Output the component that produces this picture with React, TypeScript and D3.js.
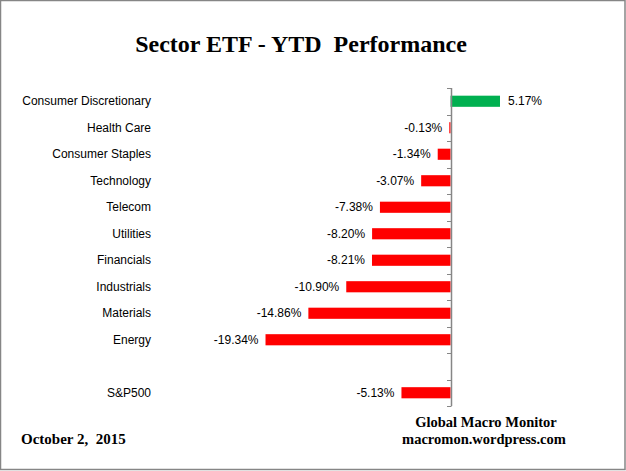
import React from "react";
import * as d3 from "d3";

const categories = [
  "Consumer Discretionary",
  "Health Care",
  "Consumer Staples",
  "Technology",
  "Telecom",
  "Utilities",
  "Financials",
  "Industrials",
  "Materials",
  "Energy",
  "",
  "S&P500",
];
const values: (number | null)[] = [5.17, -0.13, -1.34, -3.07, -7.38, -8.2, -8.21, -10.9, -14.86, -19.34, null, -5.13];
const title = "Sector ETF - YTD  Performance";
const dateText = "October 2,  2015";
const credit1 = "Global Macro Monitor";
const credit2 = "macromon.wordpress.com";

const W = 626;
const H = 471;

export default function App() {
  const keys = categories.map((c, i) => `${i}`);
  const y = d3.scaleBand<string>().domain(keys).range([88, 406]).paddingInner(0.58).paddingOuter(0.29);
  const yb = d3.scaleBand<string>().domain(keys).range([88, 406]);
  const x = d3.scaleLinear().domain([-20, 10]).range([259.2, 546.2]);
  const x0 = Math.round(x(0)) + 0.5;
  const sans = "'Liberation Sans', Arial, sans-serif";
  const serif = "'Liberation Serif', 'Times New Roman', serif";
  const tickYs = keys.map((k) => yb(k)!).concat([406]);

  return (
    <svg width={W} height={H} style={{ position: "absolute", left: 0, top: 0, background: "#fff" }}>
      <rect x={0.5} y={0.5} width={W - 1.5} height={H - 2} fill="#fff" stroke="#868686" strokeWidth={1.5} />
      <text x={301} y={52} textAnchor="middle" fontFamily={serif} fontWeight="bold" fontSize={24} style={{ whiteSpace: "pre" }}>
        {title}
      </text>
      {categories.map((c, i) => {
        const v = values[i];
        const k = keys[i];
        const cy = yb(k)! + yb.bandwidth() / 2;
        return (
          <g key={k}>
            <text x={151} y={cy} dy="0.35em" textAnchor="end" fontFamily={sans} fontSize={12} fill="#000">
              {c}
            </text>
            {v !== null && (
              <>
                <rect
                  x={Math.min(x(v), x(0))}
                  y={y(k)!}
                  width={Math.abs(x(v) - x(0))}
                  height={y.bandwidth()}
                  fill={v >= 0 ? "#00B050" : "#FF0000"}
                />
                <text
                  x={v >= 0 ? x(v) + 8 : x(v) - 7}
                  y={cy}
                  dy="0.35em"
                  textAnchor={v >= 0 ? "start" : "end"}
                  fontFamily={sans}
                  fontSize={12}
                  fill="#000"
                >
                  {`${v.toFixed(2)}%`}
                </text>
              </>
            )}
          </g>
        );
      })}
      <line x1={x0} x2={x0} y1={88} y2={406} stroke="#868686" strokeWidth={1.5} />
      {tickYs.map((ty, i) => (
        <line key={i} x1={x0 - 4.5} x2={x0} y1={Math.round(ty) + 0.5} y2={Math.round(ty) + 0.5} stroke="#868686" strokeWidth={1} />
      ))}
      <text x={486} y={427} textAnchor="middle" fontFamily={serif} fontWeight="bold" fontSize={14.5}>
        {credit1}
      </text>
      <text x={484} y={444} textAnchor="middle" fontFamily={serif} fontWeight="bold" fontSize={14.5}>
        {credit2}
      </text>
      <text x={21} y={444} fontFamily={serif} fontWeight="bold" fontSize={15} style={{ whiteSpace: "pre" }}>
        {dateText}
      </text>
    </svg>
  );
}
